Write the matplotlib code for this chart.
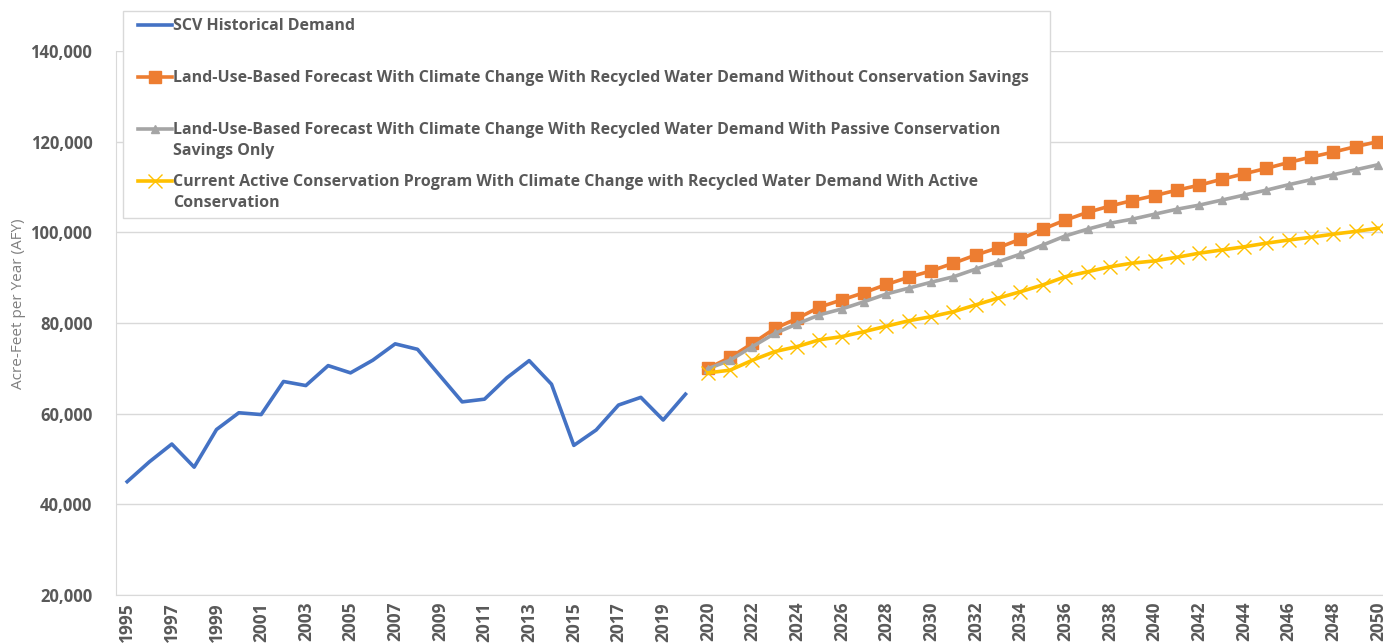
import matplotlib
matplotlib.use("Agg")
import matplotlib.pyplot as plt
from matplotlib.lines import Line2D
from matplotlib.patches import Rectangle, Circle
import numpy as np

plt.rcParams['font.family'] = ['Open Sans', 'DejaVu Sans']

# category axis: historical years, then forecast years (2020 appears twice)
hist_years = list(range(1995, 2021))
fcst_years = list(range(2020, 2051))
categories = [str(y) for y in hist_years] + [str(y) for y in fcst_years]

historical = [45000, 49400, 53300, 48200, 56500, 60200, 59800, 67100, 66200, 70600,
              69000, 71800, 75400, 74200, 68400, 62600, 63200, 67900, 71700, 66500,
              53000, 56400, 61900, 63600, 58600, 64300]

no_conservation = [70000, 72400, 75500, 78800, 81000, 83500, 85100, 86700, 88500, 90100,
                   91500, 93200, 95000, 96600, 98500, 100700, 102700, 104400, 105800, 107000,
                   108100, 109300, 110400, 111700, 112900, 114100, 115400, 116600, 117700, 118900,
                   120000]

passive_only = [69900, 71800, 74800, 77700, 79800, 81800, 83100, 84700, 86400, 87700,
                89000, 90200, 91900, 93500, 95200, 97200, 99200, 100700, 102000, 102900,
                104000, 105100, 106000, 107100, 108200, 109300, 110500, 111600, 112700, 113800,
                114900]

active_conservation = [69000, 69600, 71800, 73700, 74800, 76300, 77000, 78100, 79300, 80500,
                       81400, 82500, 84000, 85500, 86900, 88400, 90200, 91300, 92400, 93200,
                       93700, 94500, 95400, 96100, 96800, 97600, 98300, 98900, 99600, 100200,
                       100900]

labels = [
    "SCV Historical Demand",
    "Land-Use-Based Forecast With Climate Change With Recycled Water Demand Without Conservation Savings",
    "Land-Use-Based Forecast With Climate Change With Recycled Water Demand With Passive Conservation\nSavings Only",
    "Current Active Conservation Program With Climate Change with Recycled Water Demand With Active\nConservation",
]

BLUE = "#4472c4"
ORANGE = "#ed7d31"
GRAY = "#a5a5a5"
YELLOW = "#ffc000"
TXT = "#595959"

W, H = 1383, 644
fig = plt.figure(figsize=(W / 100, H / 100), dpi=100)
ax = fig.add_axes([116 / W, 1 - 595 / H, (1389 - 116) / W, (595 - 51) / H])

x_hist = np.arange(len(hist_years))
x_fcst = np.arange(len(hist_years), len(categories))

styles = [
    dict(color=BLUE, lw=2.6, marker=None),
    dict(color=ORANGE, lw=2.6, marker="s", ms=8, mec=ORANGE, mfc=ORANGE),
    dict(color=GRAY, lw=2.6, marker="^", ms=6, mec=GRAY, mfc=GRAY),
    dict(color=YELLOW, lw=2.6, marker="x", ms=10, mew=1.0, mec=YELLOW),
]

ax.plot(x_hist, historical, **styles[0])
ax.plot(x_fcst, no_conservation, **styles[1])
ax.plot(x_fcst, passive_only, **styles[2])
ax.plot(x_fcst, active_conservation, **styles[3])

ax.set_xlim(-0.5, len(categories) - 0.5)
ax.set_ylim(20000, 140000)
ax.set_yticks(np.arange(20000, 140001, 20000))
ax.set_yticklabels([f"{v:,}" for v in range(20000, 140001, 20000)],
                   fontsize=12, fontweight="bold", color=TXT)
tick_idx = list(range(0, len(categories), 2))
ax.set_xticks(tick_idx)
ax.set_xticklabels([categories[i] for i in tick_idx], rotation=90,
                   fontsize=12.5, fontweight="bold", color=TXT)
ax.tick_params(axis="x", length=0, pad=5)
ax.tick_params(axis="y", length=0, pad=17)
ax.grid(axis="y", color="#d9d9d9", lw=1)
ax.set_axisbelow(True)
for s in ["top", "right"]:
    ax.spines[s].set_visible(False)
for s in ["left", "bottom"]:
    ax.spines[s].set_color("#d9d9d9")

fig.text(19 / W, 1 - 304 / H, "Acre-Feet per Year (AFY)", rotation=90,
         ha="center", va="center", fontsize=11, color="#7f7f7f")

# legend box drawn at the top, over the plot area
fig.add_artist(Rectangle((123 / W, 1 - 218 / H), (1050 - 123) / W, (218 - 11) / H,
                         transform=fig.transFigure, facecolor="white",
                         edgecolor="#d9d9d9", lw=1, zorder=5))
entry_y = [25, 77, 129, 181]
for lab, st, yy in zip(labels, styles, entry_y):
    yf = 1 - yy / H
    fig.add_artist(Line2D([138 / W, 155 / W, 172 / W], [yf, yf, yf],
                          transform=fig.transFigure, zorder=6,
                          markevery=[1] if st["marker"] else None, **st))
    fig.text(173 / W, yf + 7 / H, lab, ha="left", va="top", fontsize=11.55,
             fontweight="bold", color=TXT, linespacing=1.44, zorder=6)

# logo at lower left
fig.add_artist(Circle((37 / W, 1 - 664 / H), 36 / W, transform=fig.transFigure,
                      facecolor="#dff1f7", edgecolor="#2b9bb3", lw=1.5))

fig.savefig("out.png", dpi=100)
